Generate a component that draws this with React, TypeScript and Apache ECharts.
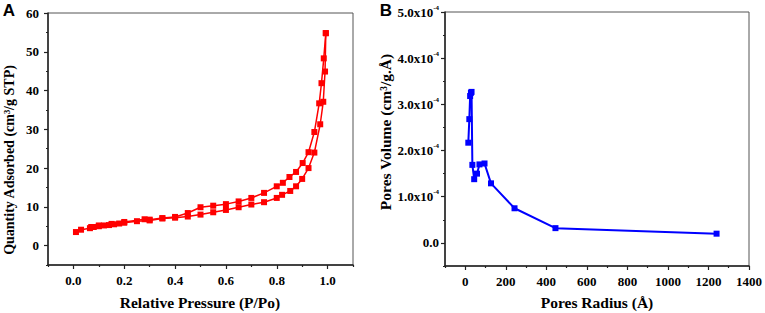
import React, { useEffect, useRef } from "react";
import * as echarts from "echarts";

// Panel A: N2 adsorption / desorption isotherm
const adsorptionP = [0.01, 0.03, 0.065, 0.08, 0.1, 0.12, 0.14, 0.16, 0.18, 0.2, 0.25, 0.3, 0.35, 0.4, 0.45, 0.5, 0.55, 0.6, 0.65, 0.7, 0.75, 0.8, 0.821, 0.853, 0.876, 0.9, 0.925, 0.948, 0.971, 0.983, 0.99, 0.993];
const adsorptionQ = [3.5, 4.1, 4.5, 4.8, 5.0, 5.2, 5.3, 5.5, 5.7, 5.9, 6.3, 6.5, 7.0, 7.2, 7.5, 8.0, 8.6, 9.2, 9.9, 10.6, 11.2, 12.3, 13.1, 14.1, 15.3, 17.2, 20.0, 24.0, 31.3, 37.1, 44.9, 54.8];
const desorptionP = [0.993, 0.985, 0.976, 0.967, 0.948, 0.925, 0.902, 0.876, 0.85, 0.824, 0.8, 0.75, 0.7, 0.65, 0.6, 0.55, 0.5, 0.45, 0.4, 0.35, 0.3, 0.28, 0.2, 0.15, 0.1, 0.07];
const desorptionQ = [54.8, 48.3, 41.9, 36.7, 29.3, 24.1, 21.3, 19.0, 17.7, 16.2, 15.3, 13.6, 12.3, 11.4, 10.7, 10.3, 9.9, 8.4, 7.4, 7.1, 6.7, 6.8, 6.1, 5.6, 5.2, 4.8];

// Panel B: pore size distribution
const poreRadius = [15, 20, 24, 28, 31, 35, 44, 58, 70, 95, 127, 243, 445, 1240];
const poreVolume = [2.17e-4, 2.68e-4, 3.18e-4, 3.25e-4, 3.27e-4, 1.69e-4, 1.38e-4, 1.5e-4, 1.7e-4, 1.72e-4, 1.29e-4, 0.75e-4, 0.32e-4, 0.2e-4];

// Tick values
const aXMajor = [0, 0.2, 0.4, 0.6, 0.8, 1.0];
const aXMinor = [-0.1, 0.1, 0.3, 0.5, 0.7, 0.9, 1.1];
const aYMajor = [0, 10, 20, 30, 40, 50, 60];
const aYMinor = [-5, 5, 15, 25, 35, 45, 55];
const bXMajor = [0, 200, 400, 600, 800, 1000, 1200, 1400];
const bXMinor = [-100, 100, 300, 500, 700, 900, 1100, 1300];
const bYMajor = [0, 1e-4, 2e-4, 3e-4, 4e-4, 5e-4];
const bYMinor = [-0.5e-4, 0.5e-4, 1.5e-4, 2.5e-4, 3.5e-4, 4.5e-4];

const SERIF = "Liberation Serif";
const SANS = "Liberation Sans";
const AXIS_COLOR = "#222";

function zip(a: number[], b: number[]) {
  return a.map((v, i) => [v, b[i]]);
}

function majorAxis(min: number, max: number, ticks: number[], gridIndex: number, formatter: any, margin: number, rich?: any) {
  const label: any = {
    show: true,
    customValues: ticks,
    formatter,
    margin,
    color: "#000",
    fontFamily: SERIF,
    fontWeight: "bold",
    fontSize: 13,
  };
  if (rich) label.rich = rich;
  return {
    type: "value",
    gridIndex,
    min,
    max,
    axisLine: { show: true, onZero: false, lineStyle: { color: AXIS_COLOR, width: 1.5 } },
    axisTick: { show: true, inside: false, length: 4, customValues: ticks, lineStyle: { color: AXIS_COLOR, width: 1.2 } },
    axisLabel: label,
    splitLine: { show: false },
  };
}

function minorAxis(min: number, max: number, ticks: number[], gridIndex: number, position: string) {
  return {
    type: "value",
    gridIndex,
    min,
    max,
    position,
    axisLine: { show: false, onZero: false },
    axisTick: { show: true, inside: false, length: 2, customValues: ticks, lineStyle: { color: AXIS_COLOR, width: 1.2 } },
    axisLabel: { show: false },
    splitLine: { show: false },
  };
}

export default function App() {
  const ref = useRef<HTMLDivElement>(null);

  useEffect(() => {
    if (!ref.current) return;
    const chart = echarts.init(ref.current, null, { renderer: "svg" });
    const supRich = {
      main: { fontSize: 13, fontWeight: "bold", fontFamily: SERIF, color: "#000" },
      sup: { fontSize: 7, fontWeight: "bold", fontFamily: SERIF, color: "#000", padding: [0, 0, 9, 0] },
    };
    const option: any = {
      animation: false,
      backgroundColor: "#fff",
      textStyle: { fontFamily: SERIF, fontWeight: "bold" },
      grid: [
        { left: 48, top: 13, width: 305, height: 252, show: true, borderColor: "#555", borderWidth: 1, containLabel: false },
        { left: 445, top: 12, width: 308, height: 254, show: true, borderColor: "#555", borderWidth: 1, containLabel: false },
      ],
      xAxis: [
        { ...majorAxis(-0.1, 1.1, aXMajor, 0, (v: number) => v.toFixed(1), 9), position: "bottom" },
        minorAxis(-0.1, 1.1, aXMinor, 0, "bottom"),
        { ...majorAxis(-100, 1400, bXMajor, 1, (v: number) => String(Math.round(v)), 9), position: "bottom" },
        minorAxis(-100, 1400, bXMinor, 1, "bottom"),
      ],
      yAxis: [
        { ...majorAxis(-5, 60, aYMajor, 0, (v: number) => String(Math.round(v)), 9), position: "left" },
        minorAxis(-5, 60, aYMinor, 0, "left"),
        {
          ...majorAxis(
            -0.5e-4,
            5e-4,
            bYMajor,
            1,
            (v: number) => {
              const n = v * 1e4;
              if (Math.abs(n) < 1e-9) return "{main|0.0}";
              return `{main|${n.toFixed(1)}x10}{sup|-4}`;
            },
            6,
            supRich
          ),
          position: "left",
        },
        minorAxis(-0.5e-4, 5e-4, bYMinor, 1, "left"),
      ],
      series: [
        {
          type: "line",
          name: "Adsorption",
          xAxisIndex: 0,
          yAxisIndex: 0,
          data: zip(adsorptionP, adsorptionQ),
          symbol: "rect",
          symbolSize: 6,
          showAllSymbol: true,
          itemStyle: { color: "#ff0000" },
          lineStyle: { color: "#ff0000", width: 1.5 },
        },
        {
          type: "line",
          name: "Desorption",
          xAxisIndex: 0,
          yAxisIndex: 0,
          data: zip(desorptionP, desorptionQ),
          symbol: "rect",
          symbolSize: 6,
          showAllSymbol: true,
          itemStyle: { color: "#ff0000" },
          lineStyle: { color: "#ff0000", width: 1.5 },
        },
        {
          type: "line",
          name: "Pore volume",
          xAxisIndex: 2,
          yAxisIndex: 2,
          data: zip(poreRadius, poreVolume),
          symbol: "rect",
          symbolSize: 6,
          showAllSymbol: true,
          itemStyle: { color: "#0000ff" },
          lineStyle: { color: "#0000ff", width: 2 },
        },
      ],
      graphic: [
        { type: "text", x: 9, y: 10, style: { text: "A", fontFamily: SANS, fontWeight: "bold", fontSize: 17, fill: "#000", align: "center", verticalAlign: "middle" } },
        { type: "text", x: 386, y: 10, style: { text: "B", fontFamily: SANS, fontWeight: "bold", fontSize: 17, fill: "#000", align: "center", verticalAlign: "middle" } },
        { type: "text", x: 200, y: 302, style: { text: "Relative Pressure (P/Po)", fontFamily: SERIF, fontWeight: "bold", fontSize: 15.5, fill: "#000", align: "center", verticalAlign: "middle" } },
        { type: "text", x: 597, y: 302, style: { text: "Pores Radius (Å)", fontFamily: SERIF, fontWeight: "bold", fontSize: 15.5, fill: "#000", align: "center", verticalAlign: "middle" } },
        { type: "text", x: 9, y: 160, rotation: Math.PI / 2, style: { text: "Quantity Adsorbed (cm³/g STP)", fontFamily: SERIF, fontWeight: "bold", fontSize: 14, fill: "#000", align: "center", verticalAlign: "middle" } },
        { type: "text", x: 385, y: 132, rotation: Math.PI / 2, style: { text: "Pores Volume (cm³/g.Å)", fontFamily: SERIF, fontWeight: "bold", fontSize: 15.5, fill: "#000", align: "center", verticalAlign: "middle" } },
      ],
    };
    chart.setOption(option);
    return () => chart.dispose();
  }, []);

  return <div ref={ref} style={{ position: "fixed", left: 0, top: 0, width: 765, height: 313, background: "#fff" }} />;
}
